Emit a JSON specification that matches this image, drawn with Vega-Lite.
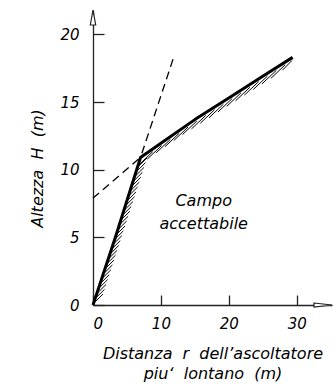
{
  "$schema": "https://vega.github.io/schema/vega-lite/v6.json",
  "width": 239,
  "height": 295,
  "autosize": {"type": "none"},
  "padding": {"left": 93, "top": 10, "right": 2, "bottom": 85},
  "background": "white",
  "config": {"view": {"stroke": null}, "axis": {"grid": false}},
  "datasets": {
    "curve": [
      {"r": 0, "h": 0}, {"r": 3.3, "h": 5}, {"r": 7, "h": 10.9}, {"r": 10, "h": 11.95},
      {"r": 15, "h": 13.7}, {"r": 20, "h": 15.3}, {"r": 25, "h": 16.9}, {"r": 29.4, "h": 18.3}
    ],
    "dashed": [
      {"id": "a", "r": 0, "h": 7.9}, {"id": "a", "r": 7.8, "h": 11.25},
      {"id": "b", "r": 6.6, "h": 10.3}, {"id": "b", "r": 11.85, "h": 18.26}
    ],
    "hatch": [
      {"r": 0.06, "h": 0.10, "r2": 1.46, "h2": 0.80},
      {"r": 0.30, "h": 0.46, "r2": 1.70, "h2": 1.16},
      {"r": 0.53, "h": 0.82, "r2": 1.93, "h2": 1.52},
      {"r": 0.76, "h": 1.18, "r2": 2.16, "h2": 1.88},
      {"r": 0.99, "h": 1.54, "r2": 2.39, "h2": 2.24},
      {"r": 1.23, "h": 1.90, "r2": 2.63, "h2": 2.60},
      {"r": 1.46, "h": 2.26, "r2": 2.86, "h2": 2.96},
      {"r": 1.69, "h": 2.62, "r2": 3.09, "h2": 3.32},
      {"r": 1.92, "h": 2.98, "r2": 3.32, "h2": 3.68},
      {"r": 2.15, "h": 3.34, "r2": 3.55, "h2": 4.04},
      {"r": 2.39, "h": 3.70, "r2": 3.79, "h2": 4.40},
      {"r": 2.62, "h": 4.06, "r2": 4.02, "h2": 4.76},
      {"r": 2.85, "h": 4.42, "r2": 4.25, "h2": 5.12},
      {"r": 3.08, "h": 4.78, "r2": 4.48, "h2": 5.48},
      {"r": 3.32, "h": 5.14, "r2": 4.72, "h2": 5.84},
      {"r": 3.55, "h": 5.50, "r2": 4.95, "h2": 6.20},
      {"r": 3.78, "h": 5.86, "r2": 5.18, "h2": 6.56},
      {"r": 4.01, "h": 6.22, "r2": 5.41, "h2": 6.92},
      {"r": 4.24, "h": 6.58, "r2": 5.64, "h2": 7.28},
      {"r": 4.48, "h": 6.94, "r2": 5.88, "h2": 7.64},
      {"r": 4.71, "h": 7.30, "r2": 6.11, "h2": 8.00},
      {"r": 4.94, "h": 7.66, "r2": 6.34, "h2": 8.36},
      {"r": 5.17, "h": 8.02, "r2": 6.57, "h2": 8.72},
      {"r": 5.41, "h": 8.38, "r2": 6.81, "h2": 9.08},
      {"r": 5.64, "h": 8.74, "r2": 7.04, "h2": 9.44},
      {"r": 5.87, "h": 9.10, "r2": 7.27, "h2": 9.80},
      {"r": 6.10, "h": 9.46, "r2": 7.50, "h2": 10.16},
      {"r": 6.33, "h": 9.82, "r2": 7.73, "h2": 10.52},
      {"r": 6.57, "h": 10.18, "r2": 7.97, "h2": 10.88},
      {"r": 8.8, "h": 11.33, "r2": 6.7, "h2": 10.33},
      {"r": 10.1, "h": 11.785, "r2": 8.0, "h2": 10.785},
      {"r": 11.4, "h": 12.24, "r2": 9.3, "h2": 11.24},
      {"r": 12.7, "h": 12.695, "r2": 10.6, "h2": 11.695},
      {"r": 14.0, "h": 13.15, "r2": 11.9, "h2": 12.15},
      {"r": 15.3, "h": 13.60, "r2": 13.2, "h2": 12.60},
      {"r": 16.6, "h": 14.01, "r2": 14.5, "h2": 13.01},
      {"r": 17.9, "h": 14.43, "r2": 15.8, "h2": 13.43},
      {"r": 19.2, "h": 14.84, "r2": 17.1, "h2": 13.84},
      {"r": 20.5, "h": 15.26, "r2": 18.4, "h2": 14.26},
      {"r": 21.8, "h": 15.68, "r2": 19.7, "h2": 14.68},
      {"r": 23.1, "h": 16.09, "r2": 21.0, "h2": 15.09},
      {"r": 24.4, "h": 16.51, "r2": 22.3, "h2": 15.51},
      {"r": 25.7, "h": 16.92, "r2": 23.6, "h2": 15.92},
      {"r": 27.0, "h": 17.34, "r2": 24.9, "h2": 16.34},
      {"r": 28.3, "h": 17.75, "r2": 26.2, "h2": 16.75},
      {"r": 29.3, "h": 18.07, "r2": 27.9, "h2": 17.35}
    ],
    "labels": [
      {"r": 16.3, "h": 7.7, "t": "Campo"},
      {"r": 16.3, "h": 6.0, "t": "accettabile"}
    ],
    "xarrow": [{"r": 35.2, "h": 0}],
    "yarrow": [{"r": 0, "h": 21.8}]
  },
  "layer": [
    {
      "data": {"name": "hatch"},
      "mark": {"type": "rule", "color": "#000", "strokeWidth": 1},
      "encoding": {
        "x": {"field": "r", "type": "quantitative", "scale": {"domain": [0, 35.2], "nice": false, "zero": false},
          "axis": {
            "values": [0, 5, 10, 15, 20, 25, 30],
            "labelExpr": "datum.value % 10 === 0 ? datum.label : ''",
            "tickSize": -10, "tickWidth": 1.3, "tickColor": "#222",
            "domainColor": "#222", "domainWidth": 1.3,
            "labelFont": "DejaVu Sans", "labelFontStyle": "italic", "labelFontWeight": 200, "labelFontSize": 15, "labelColor": "#000",
            "labelPadding": 21,
            "title": ["Distanza\u00a0\u00a0r\u00a0\u00a0dell’ascoltatore", "piu‘\u00a0\u00a0lontano\u00a0\u00a0(m)"],
            "titleFont": "DejaVu Sans", "titleFontStyle": "italic", "titleFontWeight": 200, "titleFontSize": 16,
            "titleColor": "#000", "titleLineHeight": 20, "titlePadding": 14
          }},
        "y": {"field": "h", "type": "quantitative", "scale": {"domain": [0, 21.8], "nice": false, "zero": false},
          "axis": {
            "values": [0, 5, 10, 15, 20],
            "tickSize": -11, "tickWidth": 1.3, "tickColor": "#222",
            "domainColor": "#222", "domainWidth": 1.3,
            "labelFont": "DejaVu Sans", "labelFontStyle": "italic", "labelFontWeight": 200, "labelFontSize": 15, "labelColor": "#000",
            "labelPadding": 25,
            "title": "Altezza\u00a0\u00a0H\u00a0\u00a0(m)",
            "titleFont": "DejaVu Sans", "titleFontStyle": "italic", "titleFontWeight": 200, "titleFontSize": 16,
            "titleColor": "#000", "titlePadding": 14, "titleY": 158
          }},
        "x2": {"field": "r2"},
        "y2": {"field": "h2"}
      }
    },
    {
      "data": {"name": "dashed"},
      "mark": {"type": "line", "color": "#000", "strokeWidth": 1.3, "strokeDash": [8, 5]},
      "encoding": {
        "x": {"field": "r", "type": "quantitative", "scale": {"domain": [0, 35.2], "nice": false, "zero": false}},
        "y": {"field": "h", "type": "quantitative", "scale": {"domain": [0, 21.8], "nice": false, "zero": false}},
        "detail": {"field": "id"}
      }
    },
    {
      "data": {"name": "curve"},
      "mark": {"type": "line", "color": "#000", "strokeWidth": 3, "strokeJoin": "round"},
      "encoding": {
        "x": {"field": "r", "type": "quantitative", "scale": {"domain": [0, 35.2], "nice": false, "zero": false}},
        "y": {"field": "h", "type": "quantitative", "scale": {"domain": [0, 21.8], "nice": false, "zero": false}}
      }
    },
    {
      "data": {"name": "labels"},
      "mark": {"type": "text", "font": "DejaVu Sans", "fontStyle": "italic", "fontWeight": 200, "fontSize": 16, "color": "#000", "align": "center", "baseline": "middle"},
      "encoding": {
        "x": {"field": "r", "type": "quantitative"},
        "y": {"field": "h", "type": "quantitative"},
        "text": {"field": "t"}
      }
    },
    {
      "data": {"name": "xarrow"},
      "mark": {"type": "point", "shape": "M -2 -0.22 L 0 0 L -2 0.22 Z", "size": 324, "filled": true, "fill": "white", "stroke": "#222", "strokeWidth": 1.2, "opacity": 1},
      "encoding": {
        "x": {"field": "r", "type": "quantitative"},
        "y": {"field": "h", "type": "quantitative"}
      }
    },
    {
      "data": {"name": "yarrow"},
      "mark": {"type": "point", "shape": "M -0.36 2 L 0 0 L 0.36 2 Z", "size": 225, "filled": true, "fill": "white", "stroke": "#222", "strokeWidth": 1.2, "opacity": 1},
      "encoding": {
        "x": {"field": "r", "type": "quantitative"},
        "y": {"field": "h", "type": "quantitative"}
      }
    }
  ]
}
